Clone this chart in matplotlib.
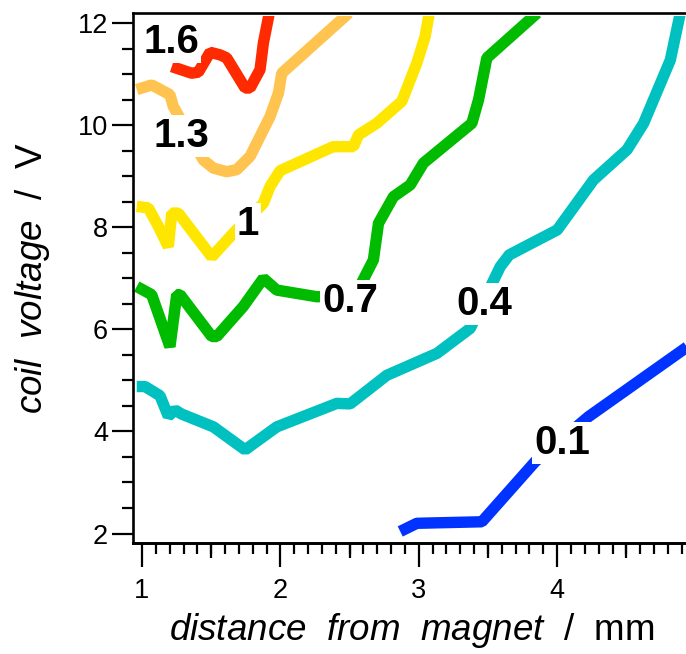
import matplotlib.pyplot as plt
from matplotlib.ticker import MultipleLocator, FixedLocator, NullFormatter
from matplotlib.transforms import Bbox, TransformedBbox

plt.rcParams['font.family'] = 'Liberation Sans'
plt.rcParams['mathtext.fontset'] = 'custom'
plt.rcParams['mathtext.it'] = 'Liberation Sans:italic'
plt.rcParams['mathtext.rm'] = 'Liberation Sans'

# contour lines (distance in mm, coil voltage in V)
x_01 = [2.866, 2.986, 3.456, 3.842, 4.227, 4.962]
y_01 = [2.04, 2.20, 2.23, 3.41, 4.29, 5.70]

x_04 = [0.962, 1.022, 1.130, 1.190, 1.239, 1.287, 1.516, 1.745, 1.974, 2.408, 2.504,
        2.769, 3.131, 3.372, 3.589, 3.654, 4.001, 4.263, 4.505, 4.625, 4.818, 4.890]
y_04 = [4.88, 4.88, 4.70, 4.30, 4.42, 4.34, 4.09, 3.64, 4.09, 4.55, 4.54,
        5.10, 5.53, 6.02, 7.23, 7.46, 7.95, 8.93, 9.52, 10.04, 11.28, 12.2]

x_07 = [0.962, 1.070, 1.202, 1.251, 1.275, 1.504, 1.540, 1.732, 1.877, 1.974, 2.263, 2.540,
        2.636, 2.672, 2.709, 2.817, 2.938, 3.034, 3.384, 3.432, 3.492, 3.612, 3.856]
y_07 = [6.84, 6.68, 5.66, 6.68, 6.68, 5.86, 5.86, 6.45, 7.00, 6.77, 6.64, 6.66,
        7.17, 7.36, 8.08, 8.60, 8.83, 9.26, 10.04, 10.50, 11.32, 11.61, 12.2]

x_10 = [0.962, 1.046, 1.118, 1.190, 1.215, 1.262, 1.504, 1.672, 1.877, 1.925, 1.998,
        2.381, 2.528, 2.564, 2.697, 2.878, 2.986, 3.046, 3.076]
y_10 = [8.41, 8.38, 8.02, 7.62, 8.28, 8.28, 7.42, 7.92, 8.47, 8.80, 9.11,
        9.58, 9.58, 9.81, 10.04, 10.47, 11.22, 11.74, 12.2]

x_13 = [0.962, 1.070, 1.202, 1.226, 1.443, 1.516, 1.612, 1.685, 1.781, 1.853, 1.925,
        1.986, 2.010, 2.495]
y_13 = [10.70, 10.79, 10.60, 10.37, 9.32, 9.16, 9.09, 9.13, 9.39, 9.78, 10.17,
        10.63, 11.02, 12.2]

x_16 = [1.215, 1.359, 1.407, 1.492, 1.564, 1.612, 1.745, 1.781, 1.853, 1.877, 1.920]
y_16 = [11.15, 11.02, 11.04, 11.43, 11.38, 11.32, 10.73, 10.73, 11.09, 11.61, 12.2]

levels = ['0.1', '0.4', '0.7', '1', '1.3', '1.6']
colors = ['#0033ff', '#00c0c0', '#00bb00', '#ffe600', '#ffc350', '#ff2a00']
label_x = [4.035, 3.473, 2.504, 1.766, 1.287, 1.213]
label_y = [3.56, 6.28, 6.35, 7.85, 9.58, 11.42]

lines_x = [x_01, x_04, x_07, x_10, x_13, x_16]
lines_y = [y_01, y_04, y_07, y_10, y_13, y_16]

fig = plt.figure(figsize=(6.86, 6.54), dpi=100)
ax = fig.add_axes([133 / 686, 111 / 654, 557 / 686, 530 / 654])
ax.set_xlim(0.935, 4.96)
ax.set_ylim(1.814, 12.2)

# lines are cut a little below the top frame
clip = TransformedBbox(Bbox([[0.9, 1.7], [5.1, 12.133]]), ax.transData)
for xs, ys, c in zip(lines_x, lines_y, colors):
    ln, = ax.plot(xs, ys, color=c, lw=8.2, solid_capstyle='butt',
                  solid_joinstyle='bevel', zorder=2)
    ln.set_clip_box(clip)

for lab, lx, ly in zip(levels, label_x, label_y):
    ax.text(lx, ly, lab, ha='center', va='baseline', fontsize=29,
            fontweight='bold', color='black', zorder=4,
            bbox=dict(facecolor='white', edgecolor='none', pad=1.5))

for side in ['left', 'bottom', 'top']:
    ax.spines[side].set_linewidth(1.9)
ax.spines['right'].set_visible(False)

ax.yaxis.set_major_locator(MultipleLocator(2))
ax.yaxis.set_minor_locator(MultipleLocator(0.5))
ax.xaxis.set_major_locator(MultipleLocator(1))
ax.xaxis.set_minor_locator(MultipleLocator(0.1))
ax.tick_params(which='major', direction='out', length=15, width=1.6,
               labelsize=19.5, pad=3)
ax.tick_params(which='minor', direction='out', length=8, width=1.6)
ax.tick_params(axis='x', which='major', length=17, pad=8)

# longer ticks at the half millimetres
sec = ax.secondary_xaxis('bottom')
sec.xaxis.set_major_locator(FixedLocator([1.5, 2.5, 3.5, 4.5]))
sec.xaxis.set_major_formatter(NullFormatter())
sec.tick_params(direction='out', length=11, width=1.6)
sec.spines['bottom'].set_linewidth(1.9)

ax.set_xlabel(r'$\mathit{distance\ \ from\ \ magnet\ \ /}\ \ \mathrm{mm}$',
              fontsize=26.5, va='center')
ax.xaxis.set_label_coords(0.5, -0.165)
ax.set_ylabel(r'$\mathit{coil\ \ voltage\ \ /}\ \ \mathrm{V}$',
              fontsize=26.5, va='center')
ax.yaxis.set_label_coords(-0.18, 0.5)

fig.savefig('out.png', dpi=100)
